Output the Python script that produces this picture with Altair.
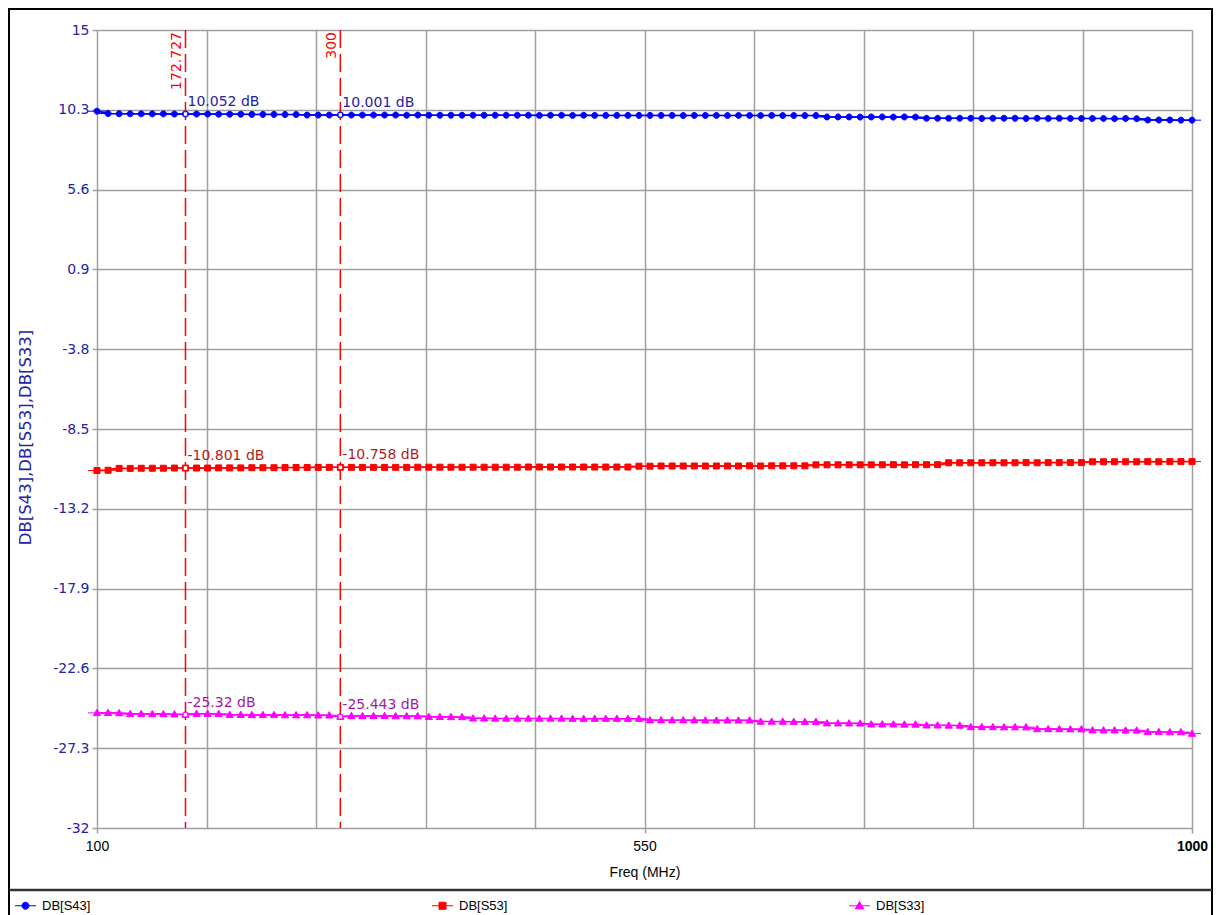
import altair as alt
import numpy as np
import pandas as pd

# ---------------- data ----------------
freq_start, freq_stop, n_points = 100, 1000, 100
series_names = ["DB[S43]", "DB[S53]", "DB[S33]"]
series_colors = ["#0000ff", "#ff0000", "#ff00ff"]
label_colors = ["#2323a8", "#b01c1c", "#a01ca0"]

s43 = [10.22,
       10.08, 10.07, 10.07, 10.06, 10.06, 10.06, 10.05,
       10.052,
       10.05, 10.05, 10.04, 10.04, 10.04, 10.03, 10.03, 10.03, 10.02, 10.02,
       9.99, 9.99, 9.99,
       10.001,
       9.99, 9.99, 9.99, 9.99, 9.99, 9.98, 9.99, 9.98,
       9.98, 9.98, 9.98, 9.98, 9.98, 9.98, 9.98, 9.98, 9.98, 9.97, 9.98, 9.98, 9.97, 9.98, 9.97,
       9.97, 9.97, 9.97, 9.97, 9.97, 9.97, 9.97, 9.96, 9.97, 9.97, 9.97, 9.96, 9.97, 9.97, 9.96, 9.97, 9.96, 9.96, 9.96, 9.96,
       9.88, 9.88, 9.88, 9.87, 9.88, 9.88, 9.87, 9.88, 9.87,
       9.80, 9.80, 9.80, 9.80, 9.80, 9.79, 9.80, 9.80, 9.80, 9.79, 9.80, 9.79, 9.80, 9.79, 9.79, 9.79, 9.79, 9.78, 9.79, 9.78,
       9.70, 9.70, 9.70, 9.69, 9.69]

s53 = [-10.95, -10.93,
       -10.82, -10.82, -10.81, -10.81, -10.81, -10.80,
       -10.801,
       -10.80, -10.80, -10.79, -10.79, -10.79, -10.78, -10.78, -10.78, -10.77, -10.77, -10.77, -10.76, -10.76,
       -10.758,
       -10.76, -10.76, -10.76, -10.76, -10.76, -10.76, -10.75, -10.75, -10.75, -10.75, -10.75, -10.75, -10.75,
       -10.75, -10.75, -10.75, -10.74, -10.74, -10.74, -10.74, -10.74, -10.74, -10.74, -10.74, -10.74, -10.74,
       -10.69, -10.69, -10.68, -10.68, -10.68, -10.68, -10.68, -10.68, -10.68, -10.68, -10.67, -10.68, -10.67, -10.67, -10.67, -10.67,
       -10.61, -10.61, -10.61, -10.61, -10.61, -10.61, -10.61, -10.60, -10.61, -10.60, -10.60, -10.60,
       -10.49, -10.49, -10.49, -10.49, -10.49, -10.49, -10.49, -10.48, -10.49, -10.48, -10.48, -10.48, -10.48,
       -10.43, -10.43, -10.43, -10.43, -10.43, -10.42, -10.43, -10.42, -10.42, -10.42]

s33 = [-25.22, -25.22, -25.23,
       -25.28, -25.28, -25.29, -25.29, -25.30,
       -25.32,
       -25.27, -25.27, -25.28,
       -25.33, -25.33, -25.34, -25.34, -25.34, -25.35, -25.35, -25.35, -25.36, -25.36,
       -25.443,
       -25.40, -25.40, -25.40, -25.40, -25.41, -25.41, -25.41,
       -25.45, -25.45, -25.46, -25.46,
       -25.54, -25.54, -25.55, -25.55, -25.55, -25.55, -25.55, -25.55, -25.55, -25.56, -25.56, -25.56, -25.56, -25.56, -25.56, -25.56,
       -25.65, -25.65, -25.65, -25.65, -25.65, -25.66, -25.66, -25.66, -25.66, -25.66,
       -25.73, -25.73, -25.73, -25.74, -25.74, -25.74,
       -25.83, -25.83, -25.83, -25.84,
       -25.89, -25.89, -25.89, -25.90, -25.90,
       -25.95, -25.95, -25.96, -25.96,
       -26.05, -26.05, -26.05, -26.06, -26.06, -26.06,
       -26.17, -26.17, -26.17, -26.18, -26.18,
       -26.24, -26.24, -26.24, -26.25, -26.25,
       -26.34, -26.34, -26.35, -26.35,
       -26.44]

marker_idx = [8, 22]
marker_freq_labels = ["172.727", "300"]

y_ticks = [15, 10.3, 5.6, 0.9, -3.8, -8.5, -13.2, -17.9, -22.6, -27.3, -32]
x_grid = [100, 190, 280, 370, 460, 550, 640, 730, 820, 910, 1000]
x_labels = [100, 550, 1000]

# ---------------- tables ----------------
freq = np.round(np.linspace(freq_start, freq_stop, n_points), 3)
all_series = [s43, s53, s33]
rows = []
for name, vals, col in zip(series_names, all_series, series_colors):
    for f, v in zip(freq, vals):
        rows.append({"freq": float(f), "value": v, "series": name, "scolor": col})
df = pd.DataFrame(rows)

mk_rows = []
for name, vals, col, lc in zip(series_names, all_series, series_colors, label_colors):
    for i in marker_idx:
        mk_rows.append({"freq": float(freq[i]), "value": vals[i], "series": name,
                        "label": f"{vals[i]} dB", "lcolor": lc, "scolor": col})
mk_df = pd.DataFrame(mk_rows)
mf_df = pd.DataFrame({"freq": [float(freq[i]) for i in marker_idx], "label": marker_freq_labels})

# ---------------- encodings ----------------
FONT_Y = "DejaVu Sans"
FONT_X = "Liberation Sans"
GRID = "#a0a0a0"

circle_p = "M-3,0H3M1,0A1,1,0,1,1,-1,0A1,1,0,1,1,1,0Z"
square_p = "M-3,0H3M-1,-1H1V1H-1Z"
tri_p = "M-3,0H3M0,-1.2L1.2,0.9H-1.2Z"

cscale = alt.Scale(domain=series_names, range=series_colors)
sscale = alt.Scale(domain=series_names, range=[circle_p, square_p, tri_p])

xscale = alt.Scale(domain=[freq_start, freq_stop], nice=False, zero=False)
yscale = alt.Scale(domain=[-32, 15], nice=False, zero=False)

x_enc = alt.X("freq:Q", scale=xscale, axis=alt.Axis(
    values=x_grid, grid=True, gridColor=GRID, gridWidth=1.5, domain=False,
    ticks=True, tickSize=5, tickColor=GRID, tickWidth=1.5,
    tickOpacity={"expr": "indexof([100,550,1000], datum.value) >= 0 ? 1 : 0"},
    labelExpr="indexof([100,550,1000], datum.value) >= 0 ? datum.value + '' : ''",
    labelFont=FONT_X, labelFontSize=14, labelColor="black",
    labelFontWeight={"expr": "datum.value == 1000 ? 'bold' : 'normal'"},
    labelPadding=6, labelFlush=False, labelOverlap=False,
    title="Freq (MHz)", titleFont=FONT_X, titleFontSize=14, titleFontWeight="normal",
    titleColor="black", titlePadding=12))

y_enc = alt.Y("value:Q", scale=yscale, axis=alt.Axis(
    values=y_ticks, grid=True, gridColor=GRID, gridWidth=1.5, domain=False,
    ticks=True, tickSize=5, tickColor=GRID, tickWidth=1.5,
    labelExpr="datum.value + ''", labelFont=FONT_Y, labelFontSize=14,
    labelColor="#2323a8", labelPadding=3, labelOverlap=False,
    title="DB[S43],DB[S53],DB[S33]", titleFont=FONT_Y, titleFontSize=16.5,
    titleFontWeight="normal", titleColor="#2323a8",
    titleX=-72, titleY=407, titleAngle=270, titleAlign="center", titleBaseline="middle"))

base = alt.Chart(df)

lines = base.mark_line(strokeWidth=1.5).encode(
    x=x_enc, y=y_enc, detail="series:N",
    stroke=alt.Stroke("scolor:N", scale=None),
)

legend = alt.Legend(orient="none", legendX=-78, legendY=869, direction="horizontal",
                    columns=3, title=None, labelFont=FONT_X, labelFontSize=13,
                    labelColor="black", symbolSize=49, symbolStrokeWidth=1,
                    labelOffset=10, columnPadding=339, padding=0)

points = base.mark_point(filled=True, strokeWidth=1, opacity=1, size=36).encode(
    x="freq:Q", y="value:Q",
    fill=alt.Fill("series:N", scale=cscale, legend=legend),
    stroke=alt.Stroke("series:N", scale=cscale, legend=legend),
    shape=alt.Shape("series:N", scale=sscale, legend=legend),
)

rules = alt.Chart(mf_df).mark_rule(color="#ff0000", strokeWidth=1.5, strokeDash=[18, 6]).encode(
    x="freq:Q")

freq_text = alt.Chart(mf_df).mark_text(
    angle=270, align="right", baseline="alphabetic", dy=-4, font=FONT_Y, fontSize=14,
    color="#ff0000").encode(x="freq:Q", y=alt.value(2), text="label:N")

mk_points = alt.Chart(mk_df).mark_point(shape="square", filled=True, fill="white",
                                         strokeWidth=1, size=20, opacity=1).encode(
    x="freq:Q", y="value:Q",
    stroke=alt.Stroke("scolor:N", scale=None))

mk_text = alt.Chart(mk_df).mark_text(align="left", baseline="alphabetic", dx=2, dy=-8,
                                      font=FONT_Y, fontSize=14).encode(
    x="freq:Q", y="value:Q", text="label:N",
    color=alt.Color("lcolor:N", scale=None))

one = pd.DataFrame({"k": [0]})
frame = alt.Chart(one).mark_rect(fillOpacity=0, stroke="black", strokeWidth=2).encode(
    x=alt.value(-88), x2=alt.value(1115), y=alt.value(-21), y2=alt.value(900))
sep = alt.Chart(one).mark_rule(stroke="#333333", strokeWidth=2.5).encode(
    x=alt.value(-88), x2=alt.value(1115), y=alt.value(860))

chart = alt.layer(lines, points, rules, freq_text, mk_points, mk_text, frame, sep).properties(
    width=1095, height=798,
    padding={"left": 89, "top": 22, "right": 21, "bottom": 87},
    autosize=alt.AutoSizeParams(type="none"),
    background="white",
).configure_view(stroke=None)

chart.save("out.html", embed_options={"renderer": "svg", "actions": False})
